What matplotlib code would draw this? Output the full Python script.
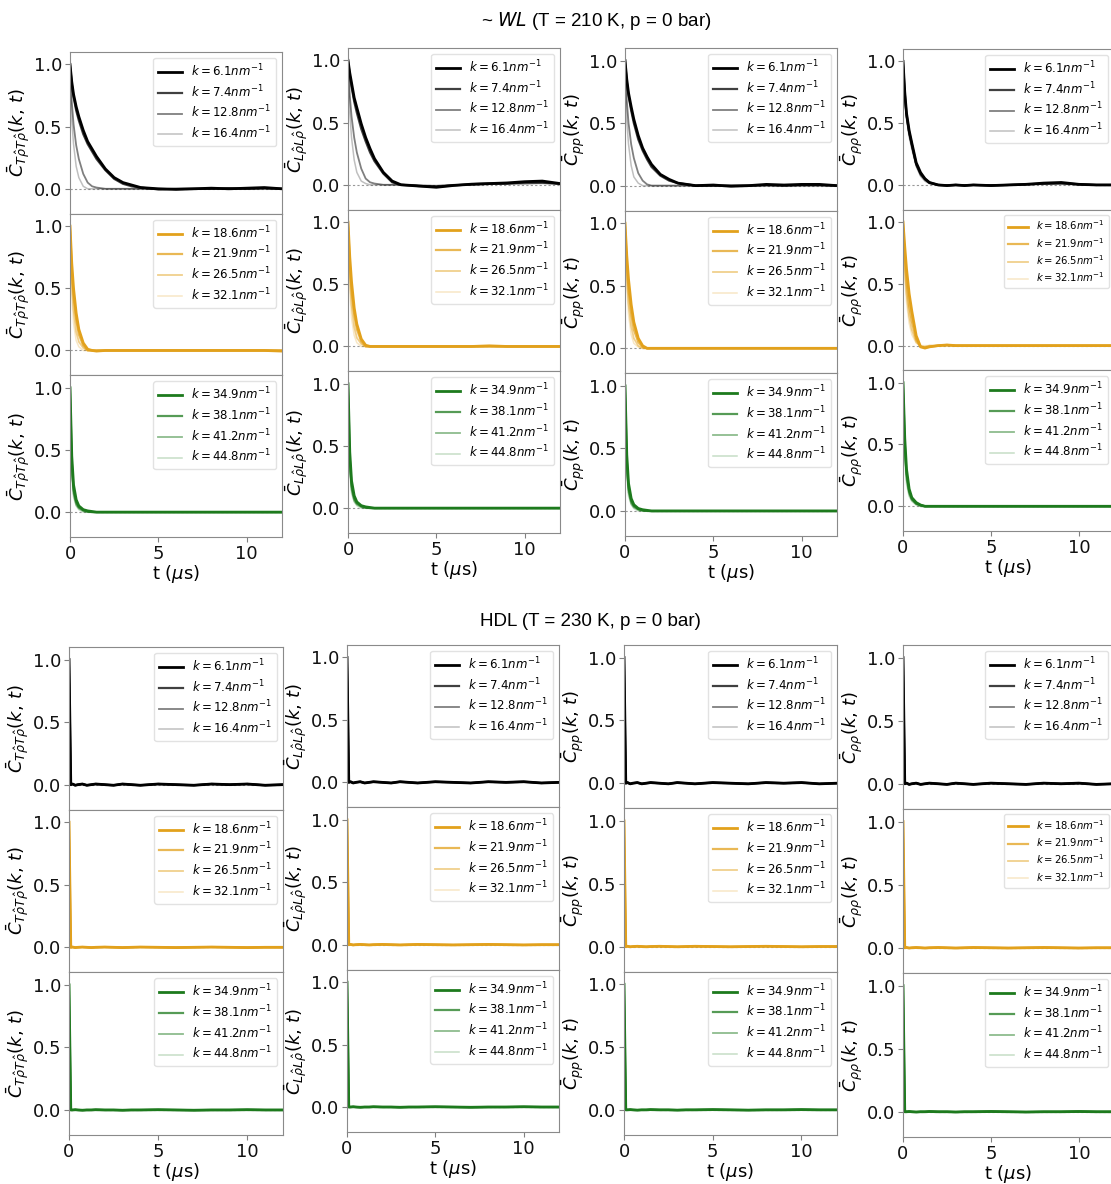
"""Normalised current/density autocorrelations for WL and HDL, 3 k-groups x 4 observables."""

import matplotlib

matplotlib.use("Agg")

import matplotlib.pyplot as plt


# time grid (microseconds) shared by every curve
T_US = [0.0, 0.1, 0.2, 0.35, 0.5, 0.75, 1.0, 1.25, 1.5, 2.0, 2.5,
        3.0, 3.5, 4.0, 5.0, 6.0, 7.0, 8.0, 9.0, 10.0, 11.0, 12.0]

K_LABELS = [
    ["6.1", "7.4", "12.8", "16.4"],
    ["18.6", "21.9", "26.5", "32.1"],
    ["34.9", "38.1", "41.2", "44.8"],
]

YLABELS = [
    r"$\bar{C}_{T\hat{\rho}T\hat{\rho}}(k,\,t)$",
    r"$\bar{C}_{L\hat{\rho}L\hat{\rho}}(k,\,t)$",
    r"$\bar{C}_{pp}(k,\,t)$",
    r"$\bar{C}_{\rho\rho}(k,\,t)$",
]

# ---- WL (T = 210 K) ----
WL_TRANS_ROW1 = [
    [1.00, 0.86, 0.76, 0.66, 0.58, 0.47, 0.38, 0.32, 0.26, 0.16, 0.09,
     0.05, 0.03, 0.01, 0.00, -0.005, 0.00, 0.005, 0.00, 0.005, 0.01, 0.00],
    [1.00, 0.84, 0.74, 0.63, 0.55, 0.44, 0.36, 0.30, 0.24, 0.15, 0.08,
     0.04, 0.02, 0.01, -0.005, 0.00, 0.00, 0.00, 0.005, 0.00, 0.005, 0.00],
    [1.00, 0.70, 0.52, 0.35, 0.24, 0.12, 0.05, 0.02, 0.01, 0.00, 0.00,
     0.00, 0.00, 0.00, 0.00, 0.00, 0.00, 0.00, 0.00, 0.00, 0.00, 0.00],
    [1.00, 0.55, 0.36, 0.18, 0.09, 0.02, 0.00, 0.00, 0.00, 0.00, 0.00,
     0.00, 0.00, 0.00, 0.00, 0.00, 0.00, 0.00, 0.00, 0.00, 0.00, 0.00],
]
WL_LONG_ROW1 = [
    [1.00, 0.90, 0.82, 0.70, 0.62, 0.49, 0.38, 0.29, 0.21, 0.10, 0.03,
     0.00, -0.005, -0.01, -0.02, -0.005, 0.005, 0.01, 0.015, 0.025, 0.03, 0.01],
    [1.00, 0.88, 0.79, 0.67, 0.58, 0.45, 0.35, 0.26, 0.19, 0.09, 0.02,
     0.00, -0.005, -0.01, -0.015, -0.005, 0.005, 0.01, 0.01, 0.02, 0.02, 0.01],
    [1.00, 0.72, 0.55, 0.38, 0.26, 0.13, 0.05, 0.02, 0.01, 0.00, 0.00,
     0.00, 0.00, -0.005, -0.01, 0.00, 0.00, 0.005, 0.01, 0.01, 0.015, 0.005],
    [1.00, 0.58, 0.38, 0.20, 0.10, 0.03, 0.01, 0.00, 0.00, 0.00, 0.00,
     0.00, 0.00, -0.005, -0.005, 0.00, 0.00, 0.005, 0.005, 0.01, 0.01, 0.005],
]
WL_PP_ROW1 = [
    [1.00, 0.85, 0.74, 0.63, 0.53, 0.40, 0.30, 0.23, 0.17, 0.09, 0.05,
     0.02, 0.01, 0.00, 0.005, -0.005, 0.00, 0.01, 0.005, 0.01, 0.01, 0.00],
    [1.00, 0.83, 0.72, 0.60, 0.50, 0.37, 0.28, 0.21, 0.15, 0.08, 0.04,
     0.02, 0.01, 0.00, 0.00, 0.00, 0.00, 0.005, 0.00, 0.005, 0.005, 0.00],
    [1.00, 0.68, 0.50, 0.33, 0.22, 0.10, 0.04, 0.01, 0.00, 0.00, 0.00,
     0.00, 0.00, 0.00, 0.00, 0.00, 0.00, 0.00, 0.00, 0.00, 0.00, 0.00],
    [1.00, 0.52, 0.33, 0.16, 0.07, 0.02, 0.00, 0.00, 0.00, 0.00, 0.00,
     0.00, 0.00, 0.00, 0.00, 0.00, 0.00, 0.00, 0.00, 0.00, 0.00, 0.00],
]
WL_RHO_ROW1 = [
    [1.00, 0.75, 0.58, 0.44, 0.34, 0.18, 0.10, 0.05, 0.02, 0.00, -0.005,
     0.00, -0.005, 0.00, -0.005, 0.00, 0.005, 0.015, 0.02, 0.005, 0.00, 0.00],
    [1.00, 0.74, 0.57, 0.43, 0.33, 0.17, 0.09, 0.05, 0.02, 0.00, -0.005,
     0.00, -0.005, 0.00, -0.005, 0.00, 0.005, 0.01, 0.015, 0.005, 0.00, 0.00],
    [1.00, 0.72, 0.55, 0.41, 0.31, 0.16, 0.08, 0.04, 0.015, 0.00, 0.00,
     0.00, 0.00, 0.00, 0.00, 0.00, 0.005, 0.01, 0.01, 0.005, 0.00, 0.00],
    [1.00, 0.70, 0.53, 0.39, 0.29, 0.15, 0.07, 0.03, 0.01, 0.00, 0.00,
     0.00, 0.00, 0.00, 0.00, 0.00, 0.00, 0.005, 0.005, 0.00, 0.00, 0.00],
]
WL_TRANS_ROW2 = [
    [1.00, 0.70, 0.50, 0.30, 0.17, 0.06, 0.01, 0.00, -0.005, 0.00, 0.00,
     0.00, 0.00, 0.00, 0.00, 0.00, 0.00, 0.00, 0.00, 0.00, 0.00, -0.005],
    [1.00, 0.65, 0.44, 0.25, 0.13, 0.04, 0.00, 0.00, 0.00, 0.00, 0.00,
     0.00, 0.00, 0.00, 0.00, 0.00, 0.00, 0.00, 0.00, 0.00, 0.00, 0.00],
    [1.00, 0.55, 0.33, 0.15, 0.07, 0.02, 0.00, 0.00, 0.00, 0.00, 0.00,
     0.00, 0.00, 0.00, 0.00, 0.00, 0.00, 0.00, 0.00, 0.00, 0.00, 0.00],
    [1.00, 0.45, 0.22, 0.08, 0.03, 0.00, 0.00, 0.00, 0.00, 0.00, 0.00,
     0.00, 0.00, 0.00, 0.00, 0.00, 0.00, 0.00, 0.00, 0.00, 0.00, 0.00],
]
WL_LONG_ROW2 = [
    [1.00, 0.72, 0.52, 0.31, 0.18, 0.06, 0.01, 0.00, 0.00, 0.00, 0.00,
     0.00, 0.00, 0.00, 0.00, 0.00, 0.00, 0.005, 0.00, 0.00, 0.00, 0.00],
    [1.00, 0.66, 0.45, 0.26, 0.14, 0.04, 0.00, 0.00, 0.00, 0.00, 0.00,
     0.00, 0.00, 0.00, 0.00, 0.00, 0.00, 0.00, 0.00, 0.00, 0.00, 0.00],
    [1.00, 0.56, 0.34, 0.16, 0.07, 0.02, 0.00, 0.00, 0.00, 0.00, 0.00,
     0.00, 0.00, 0.00, 0.00, 0.00, 0.00, 0.00, 0.00, 0.00, 0.00, 0.00],
    [1.00, 0.46, 0.23, 0.09, 0.03, 0.00, 0.00, 0.00, 0.00, 0.00, 0.00,
     0.00, 0.00, 0.00, 0.00, 0.00, 0.00, 0.00, 0.00, 0.00, 0.00, 0.00],
]
WL_PP_ROW2 = [
    [1.00, 0.74, 0.55, 0.35, 0.21, 0.08, 0.02, 0.00, 0.00, 0.00, 0.00,
     0.00, 0.00, 0.00, 0.00, 0.00, 0.00, 0.00, 0.00, 0.00, 0.00, 0.00],
    [1.00, 0.68, 0.47, 0.28, 0.15, 0.05, 0.01, 0.00, 0.00, 0.00, 0.00,
     0.00, 0.00, 0.00, 0.00, 0.00, 0.00, 0.00, 0.00, 0.00, 0.00, 0.00],
    [1.00, 0.58, 0.36, 0.18, 0.08, 0.02, 0.00, 0.00, 0.00, 0.00, 0.00,
     0.00, 0.00, 0.00, 0.00, 0.00, 0.00, 0.00, 0.00, 0.00, 0.00, 0.00],
    [1.00, 0.50, 0.27, 0.11, 0.04, 0.01, 0.00, 0.00, 0.00, 0.00, 0.00,
     0.00, 0.00, 0.00, 0.00, 0.00, 0.00, 0.00, 0.00, 0.00, 0.00, 0.00],
]
WL_RHO_ROW2 = [
    [1.00, 0.80, 0.62, 0.42, 0.28, 0.08, -0.01, -0.02, -0.01, 0.00, 0.005,
     0.00, 0.00, 0.00, 0.00, 0.00, 0.00, 0.00, 0.00, 0.00, 0.00, 0.00],
    [1.00, 0.72, 0.52, 0.32, 0.20, 0.05, -0.01, -0.015, -0.01, 0.00, 0.005,
     0.00, 0.00, 0.00, 0.00, 0.00, 0.00, 0.00, 0.00, 0.00, 0.00, 0.00],
    [1.00, 0.62, 0.42, 0.24, 0.13, 0.03, -0.005, -0.01, 0.00, 0.00, 0.00,
     0.00, 0.00, 0.00, 0.00, 0.00, 0.00, 0.00, 0.00, 0.00, 0.00, 0.00],
    [1.00, 0.55, 0.35, 0.18, 0.09, 0.02, 0.00, 0.00, 0.00, 0.00, 0.00,
     0.00, 0.00, 0.00, 0.00, 0.00, 0.00, 0.00, 0.00, 0.00, 0.00, 0.00],
]
WL_ROW3 = [
    [1.00, 0.45, 0.22, 0.10, 0.05, 0.02, 0.01, 0.005, 0.00, 0.00, 0.00,
     0.00, 0.00, 0.00, 0.00, 0.00, 0.00, 0.00, 0.00, 0.00, 0.00, 0.00],
    [1.00, 0.40, 0.18, 0.08, 0.04, 0.015, 0.005, 0.00, 0.00, 0.00, 0.00,
     0.00, 0.00, 0.00, 0.00, 0.00, 0.00, 0.00, 0.00, 0.00, 0.00, 0.00],
    [1.00, 0.35, 0.15, 0.06, 0.03, 0.01, 0.00, 0.00, 0.00, 0.00, 0.00,
     0.00, 0.00, 0.00, 0.00, 0.00, 0.00, 0.00, 0.00, 0.00, 0.00, 0.00],
    [1.00, 0.30, 0.12, 0.05, 0.02, 0.00, 0.00, 0.00, 0.00, 0.00, 0.00,
     0.00, 0.00, 0.00, 0.00, 0.00, 0.00, 0.00, 0.00, 0.00, 0.00, 0.00],
]
WL_RHO_ROW3 = [
    [1.00, 0.55, 0.30, 0.14, 0.07, 0.03, 0.01, 0.00, 0.00, 0.00, 0.00,
     0.00, 0.00, 0.00, 0.00, 0.00, 0.00, 0.00, 0.00, 0.00, 0.00, 0.00],
    [1.00, 0.50, 0.26, 0.12, 0.06, 0.02, 0.01, 0.00, 0.00, 0.00, 0.00,
     0.00, 0.00, 0.00, 0.00, 0.00, 0.00, 0.00, 0.00, 0.00, 0.00, 0.00],
    [1.00, 0.45, 0.22, 0.10, 0.05, 0.02, 0.00, 0.00, 0.00, 0.00, 0.00,
     0.00, 0.00, 0.00, 0.00, 0.00, 0.00, 0.00, 0.00, 0.00, 0.00, 0.00],
    [1.00, 0.40, 0.18, 0.08, 0.04, 0.01, 0.00, 0.00, 0.00, 0.00, 0.00,
     0.00, 0.00, 0.00, 0.00, 0.00, 0.00, 0.00, 0.00, 0.00, 0.00, 0.00],
]

# ---- HDL (T = 230 K): every k drops to zero within the first step ----
HDL_ROW1 = [1.00, 0.00, 0.005, -0.005, 0.00, 0.005, -0.005, 0.00, 0.005, 0.00, -0.005,
            0.005, 0.00, -0.005, 0.005, 0.00, -0.005, 0.005, 0.00, 0.005, -0.005, 0.00]
HDL_ROW2 = [1.00, 0.00, 0.002, -0.002, 0.00, 0.002, 0.00, -0.002, 0.00, 0.002, 0.00,
            -0.002, 0.00, 0.002, 0.00, -0.002, 0.00, 0.002, 0.00, -0.002, 0.00, 0.00]
HDL_ROW3 = [1.00, 0.00, 0.00, 0.002, 0.00, -0.002, 0.00, 0.00, 0.002, 0.00, 0.00,
            -0.002, 0.00, 0.00, 0.002, 0.00, -0.002, 0.00, 0.00, 0.002, 0.00, 0.00]

ROW_COLORS = ["#000000", "#e2a11c", "#1d7a1d"]
LINE_ALPHAS = [1.0, 0.75, 0.5, 0.25]
LINE_WIDTHS = [2.0, 1.6, 1.3, 1.1]

FIG_W, FIG_H = 1111, 1184
# (left, right, top, bottom) of each column, in pixels
WL_COLUMNS = [(70, 282, 52, 537), (348, 560, 48, 533), (625, 837, 48, 536), (903, 1114, 49, 531)]
HDL_COLUMNS = [(69, 283, 647, 1135), (347, 559, 645, 1132), (624, 837, 645, 1135), (903, 1114, 645, 1137)]


def draw_panel(ax, curves, row, col, show_x):
    color = ROW_COLORS[row]
    for i, values in enumerate(curves):
        ax.plot(T_US, values, color=color, alpha=LINE_ALPHAS[i], lw=LINE_WIDTHS[i],
                label=rf"$k={K_LABELS[row][i]}nm^{{-1}}$")
    ax.axhline(0.0, color="#999999", lw=0.8, ls=(0, (2, 2)), zorder=0)
    ax.set_xlim(0, 12)
    ax.set_ylim(-0.2, 1.1)
    ax.set_yticks([0.0, 0.5, 1.0])
    ax.set_xticks([0, 5, 10])
    ax.set_ylabel(YLABELS[col], fontsize=13, labelpad=1)
    ax.tick_params(labelsize=13, colors="#808080", labelcolor="#111111", length=3.5, pad=2)
    for spine in ax.spines.values():
        spine.set_color("#8a8a8a")
    if show_x:
        ax.set_xlabel(r"t ($\mu$s)", fontsize=13, labelpad=0)
    else:
        ax.tick_params(labelbottom=False, bottom=False)
    legend_size = 7.2 if (row == 1 and col == 3) else 8.5
    ax.legend(loc="upper right", fontsize=legend_size, framealpha=0.85,
              edgecolor="#dddddd", handlelength=2.0, borderpad=0.4, labelspacing=0.35)


def draw_block(fig, columns, panels):
    for col, (left, right, top, bottom) in enumerate(columns):
        row_h = (bottom - top) / 3
        for row in range(3):
            y_top = top + row * row_h
            ax = fig.add_axes([left / FIG_W, 1 - (y_top + row_h) / FIG_H,
                               (right - left) / FIG_W, row_h / FIG_H])
            draw_panel(ax, panels[row][col], row, col, show_x=(row == 2))


def main():
    fig = plt.figure(figsize=(FIG_W / 100, FIG_H / 100), dpi=100)

    wl_panels = [
        [WL_TRANS_ROW1, WL_LONG_ROW1, WL_PP_ROW1, WL_RHO_ROW1],
        [WL_TRANS_ROW2, WL_LONG_ROW2, WL_PP_ROW2, WL_RHO_ROW2],
        [WL_ROW3, WL_ROW3, WL_ROW3, WL_RHO_ROW3],
    ]
    hdl_panels = [
        [[HDL_ROW1] * 4] * 4,
        [[HDL_ROW2] * 4] * 4,
        [[HDL_ROW3] * 4] * 4,
    ]
    draw_block(fig, WL_COLUMNS, wl_panels)
    draw_block(fig, HDL_COLUMNS, hdl_panels)

    fig.text(596 / FIG_W, 1 - 21 / FIG_H, r"~ $\mathit{WL}$ (T = 210 K, p = 0 bar)",
             ha="center", va="center", fontsize=13.5, family="Liberation Sans")
    fig.text(590 / FIG_W, 1 - 621 / FIG_H, "HDL (T = 230 K, p = 0 bar)",
             ha="center", va="center", fontsize=13.5, family="Liberation Sans")

    fig.savefig("out.png", dpi=100)
    plt.close(fig)


if __name__ == "__main__":
    main()
